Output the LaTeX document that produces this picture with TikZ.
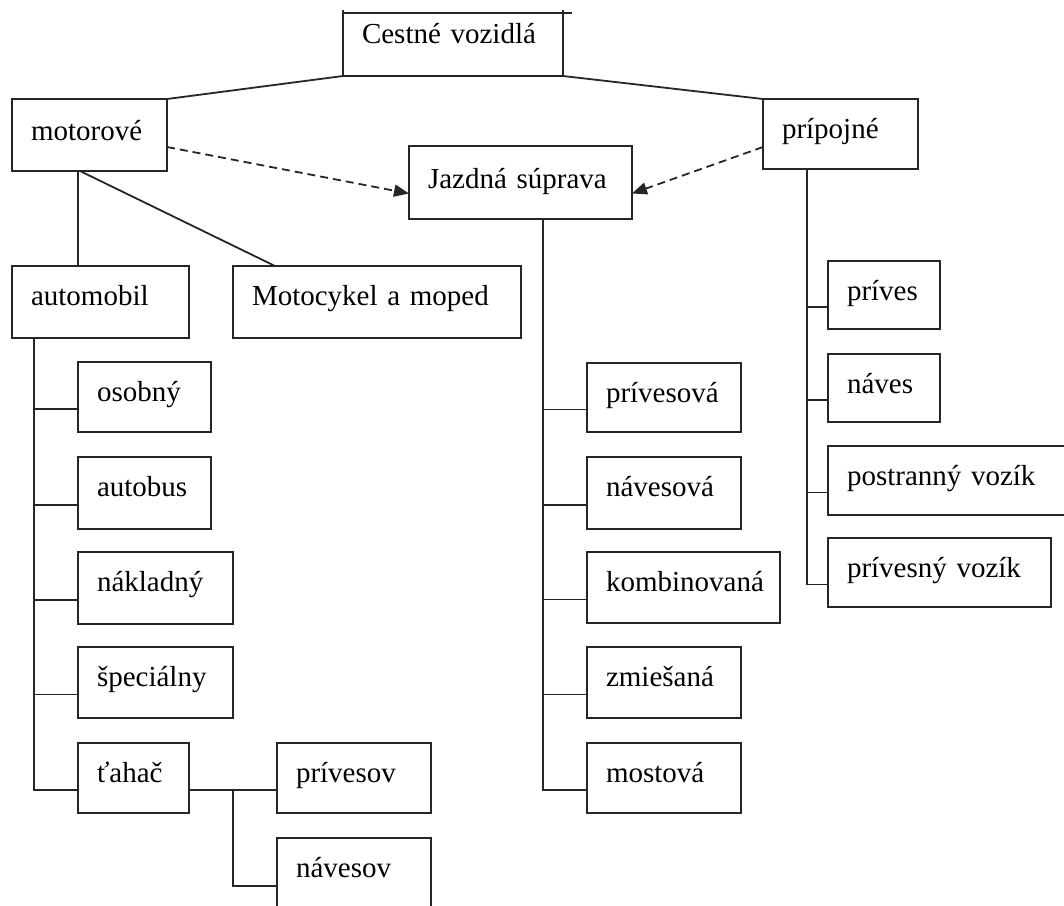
\documentclass[tikz,border=0pt]{standalone}
\usepackage{fontspec}
\setmainfont{Liberation Serif}
\usetikzlibrary{arrows.meta}

\begin{document}
\begin{tikzpicture}[x=1pt, y=-1pt,
  box/.style={draw=black!85, line width=1.8pt, rectangle, anchor=north west, outer sep=0pt,
    inner xsep=19pt, inner ysep=0pt, text height=39pt, align=left,
    font=\fontsize{29}{34}\selectfont,
    execute at begin node={\hyphenpenalty=10000\exhyphenpenalty=10000}},
  link/.style={line width=1.8pt, draw=black!85},
  relation/.style={line width=1.8pt, draw=black!85, dash pattern=on 8pt off 5pt,
    -{Triangle[length=15pt,width=12pt]}}]

\useasboundingbox (0,0) rectangle (1064,905);
\clip (0,0) rectangle (1064,905);

% top level
\node[box, text width=182pt, text height=30pt, text depth=33pt] (cv) at (343,13) {Cestné vozidlá};
\draw[link] (cv.north east) -- ++(9,0);
\draw[link] (cv.north west) -- ++(0,-3);
\draw[link] (cv.north east) -- ++(0,-3);

% second level
\node[box, text width=117pt, text height=41pt, text depth=31pt] (moto) at (12,99) {motorové};
\node[box, text width=117pt, text depth=31pt] (prip) at (763,99) {prípojné};
\node[box, text width=185pt, text height=42pt, text depth=31pt] (jaz) at (409,146) {Jazdná súprava};

% motor vehicles
\node[box, text width=139pt, text depth=33pt] (auto) at (12,266) {automobil};
\node[box, text width=250pt, text depth=33pt] (moc) at (233,266) {Motocykel a moped};
\node[box, text width=95pt, text depth=31pt] (osob) at (78,362) {osobný};
\node[box, text width=95pt, text depth=33pt] (autob) at (78,457) {autobus};
\node[box, text width=117pt, text depth=33pt] (nakl) at (78,552) {nákladný};
\node[box, text width=117pt, text depth=32pt] (spec) at (78,647) {špeciálny};
\node[box, text width=73pt, text depth=31pt] (tah) at (78,743) {ťahač};
\node[box, text width=116pt, text depth=31pt] (privs) at (277,743) {prívesov};
\node[box, text width=116pt, text depth=33pt] (navs) at (277,838) {návesov};

% combinations
\node[box, text width=116pt, text depth=30pt] (jp1) at (587,363) {prívesová};
\node[box, text width=116pt, text depth=33pt] (jp2) at (587,457) {návesová};
\node[box, text width=155pt, text depth=32pt] (jp3) at (587,552) {kombinovaná};
\node[box, text width=116pt, text depth=32pt] (jp4) at (587,647) {zmiešaná};
\node[box, text width=116pt, text depth=31pt] (jp5) at (587,743) {mostová};

% trailers
\node[box, text width=74pt, text depth=29pt] (pr1) at (828,261) {príves};
\node[box, text width=74pt, text depth=29pt] (pr2) at (828,354) {náves};
\node[box, text width=212pt, text depth=30pt] (pr3) at (828,446) {postranný vozík};
\node[box, text width=185pt, text depth=30pt] (pr4) at (828,538) {prívesný vozík};

% links from the root
\draw[link] (cv.south west) -- (moto.north east);
\draw[link] (cv.south east) -- (prip.north west);

% combination relations
\draw[relation] ([yshift=-12pt]moto.east) -- ([yshift=-11pt]jaz.west);
\draw[relation] ([yshift=-13pt]prip.west) -- ([yshift=-11pt]jaz.east);

% motor vehicle branches
\draw[link] ([xshift=66pt]moto.south west) -- ([xshift=66pt]auto.north west);
\draw[link] ([xshift=68pt]moto.south west) -- ([xshift=42pt]moc.north west);
\foreach \n in {osob,autob,nakl,spec,tah}
  \draw[link] ([xshift=22pt]auto.south west) |- ([yshift=-12pt]\n.west);
\draw[link] ([yshift=-12pt]tah.east) -- ([yshift=-12pt]privs.west);
\draw[link] ([shift={(44pt,-12pt)}]tah.east) |- ([yshift=-12pt]navs.west);

% combination branches
\foreach \n in {jp1,jp2,jp3,jp4,jp5}
  \draw[link] ([xshift=134pt]jaz.south west) |- ([yshift=-12pt]\n.west);

% trailer branches
\foreach \n in {pr1,pr2,pr3,pr4}
  \draw[link] ([xshift=44pt]prip.south west) |- ([yshift=-12pt]\n.west);

\end{tikzpicture}
\end{document}
